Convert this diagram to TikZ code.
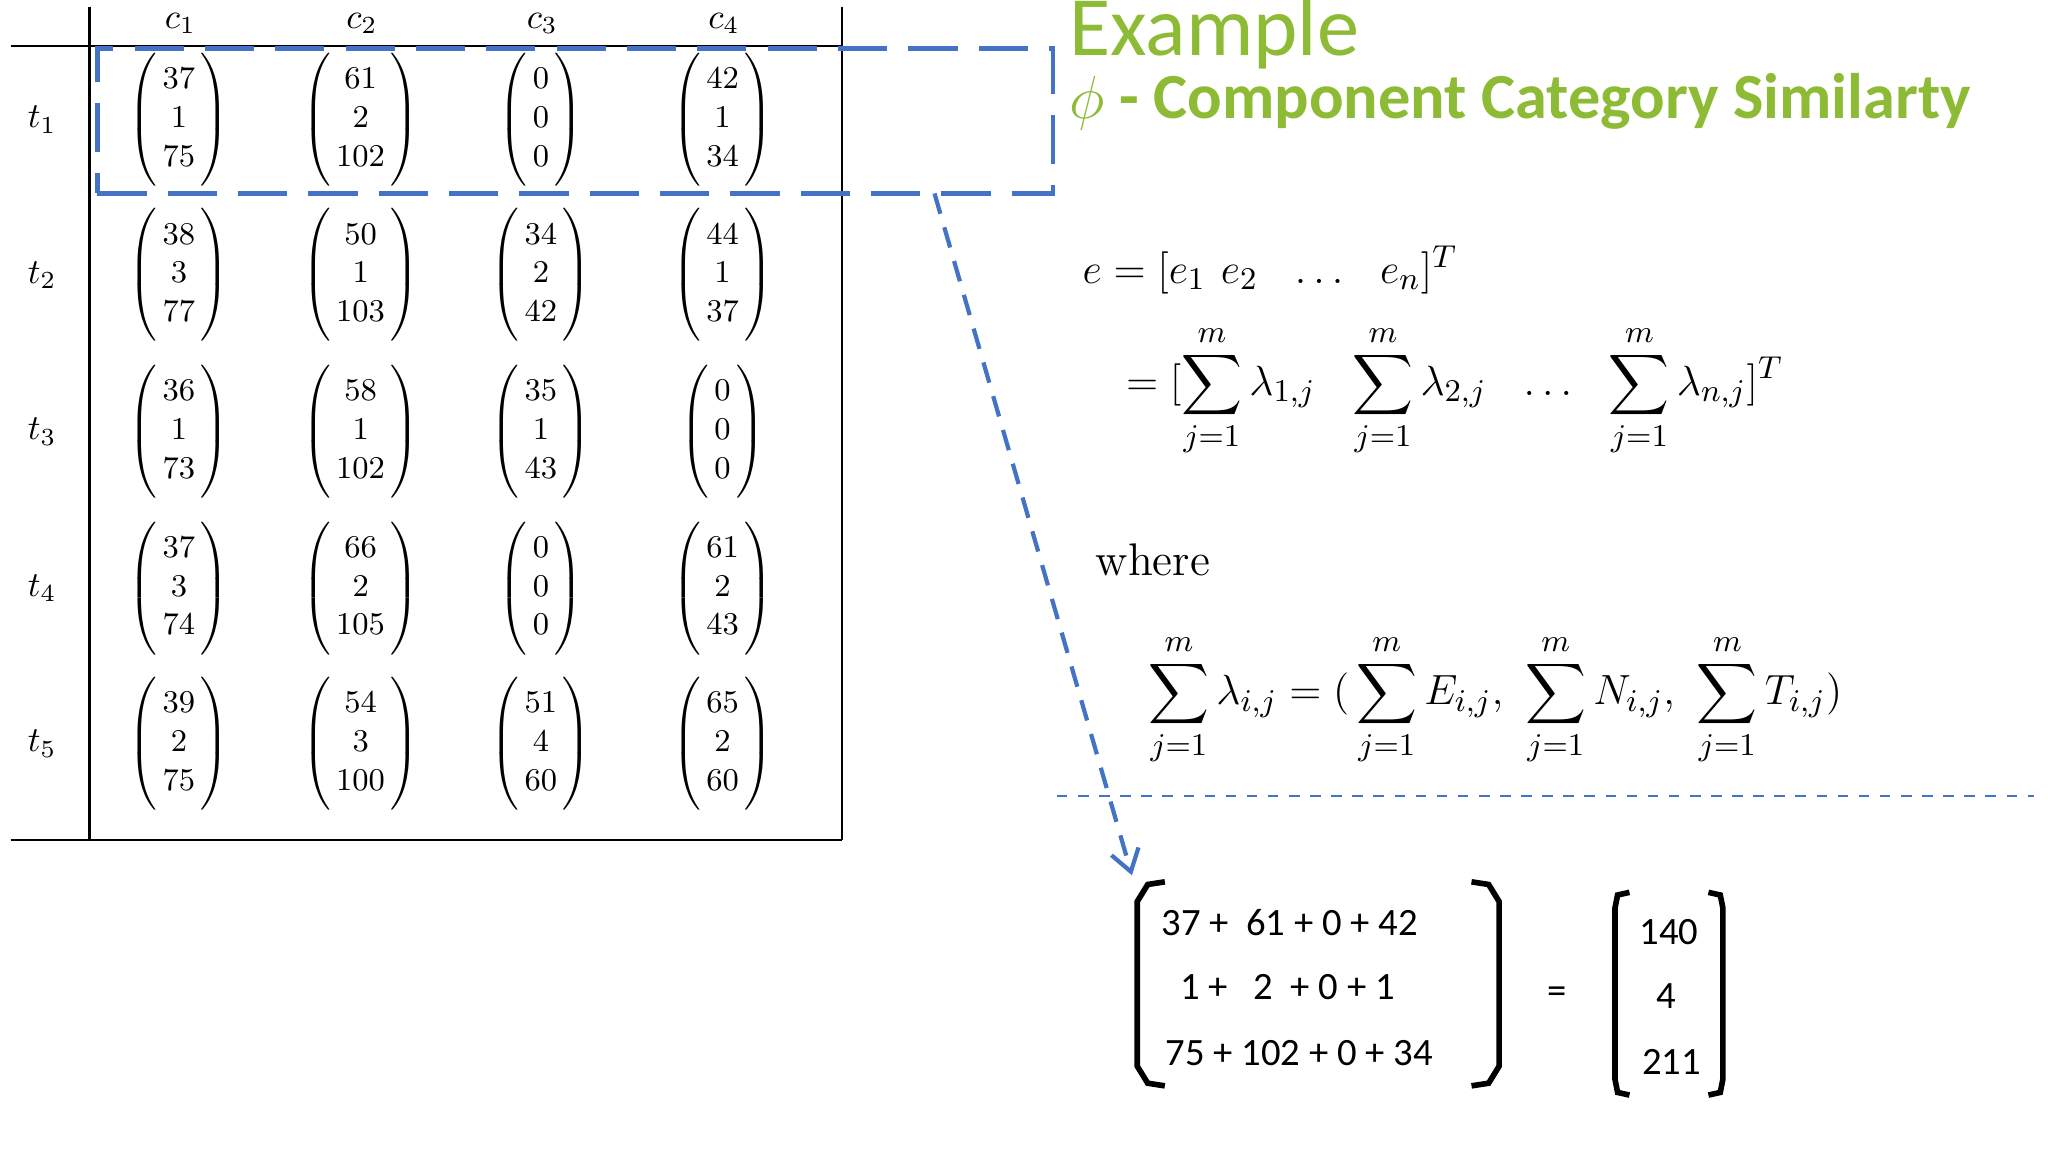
\documentclass[tikz,border=0pt]{standalone}
\usepackage{amsmath}
\usepackage{fontspec}
\newfontfamily\carl{Carlito}
\usetikzlibrary{arrows.meta}
\definecolor{tgreen}{HTML}{8DBB35}
\definecolor{dblue}{HTML}{4472C4}
\tikzset{
  cell/.style={font=\fontsize{9.5pt}{11pt}\selectfont, inner sep=0pt},
  hdr/.style={font=\fontsize{10pt}{12pt}\selectfont},
  eq/.style={anchor=west, font=\fontsize{13pt}{16pt}\selectfont, inner sep=0pt},
  sans/.style={font=\carl\fontsize{11pt}{13pt}\selectfont, inner sep=0pt},
  brk/.style={line width=1.6pt}
}
\begin{document}
\begin{tikzpicture}[x=0.01316cm,y=-0.01316cm]
\useasboundingbox (0,0) rectangle (1556,875);
% table lines
\draw[line width=0.6pt] (68,5) -- (68,638) (8,35) -- (640,35) (8,638) -- (640,638) (640,5) -- (640,638);
\foreach \x/\n in {137/1,275/2,412/3,550/4} \node[hdr] (c\n) at (\x,18) {$c_\n$};
\foreach \y/\n in {91/1,209/2,328/3,447/4,565/5} \node[hdr] (t\n) at (32,\y) {$t_\n$};
\renewcommand{\arraystretch}{1.0}
\newcommand{\mv}[3]{\node[cell] (#1) at #2 {$\left(\vcenter{\vbox{\vspace{3pt}\hbox{$\,\begin{matrix}#3\end{matrix}\,$}\vspace{3pt}}}\right)$};}
\mv{m11}{(136,91)}{37\\1\\75} \mv{m12}{(274,91)}{61\\2\\102} \mv{m13}{(411,91)}{0\\0\\0} \mv{m14}{(549,91)}{42\\1\\34}
\mv{m21}{(136,209)}{38\\3\\77} \mv{m22}{(274,209)}{50\\1\\103} \mv{m23}{(411,209)}{34\\2\\42} \mv{m24}{(549,209)}{44\\1\\37}
\mv{m31}{(136,328)}{36\\1\\73} \mv{m32}{(274,328)}{58\\1\\102} \mv{m33}{(411,328)}{35\\1\\43} \mv{m34}{(549,328)}{0\\0\\0}
\mv{m41}{(136,447)}{37\\3\\74} \mv{m42}{(274,447)}{66\\2\\105} \mv{m43}{(411,447)}{0\\0\\0} \mv{m44}{(549,447)}{61\\2\\43}
\mv{m51}{(136,565)}{39\\2\\75} \mv{m52}{(274,565)}{54\\3\\100} \mv{m53}{(411,565)}{51\\4\\60} \mv{m54}{(549,565)}{65\\2\\60}
% dashed highlight
\node[draw=dblue, dash pattern=on 14pt off 6pt, line width=1.4pt, minimum width=726*0.01316cm, minimum height=110*0.01316cm, inner sep=0pt] (hl) at (437,92) {};
\coordinate (as) at (710,147);
% titles
\node[anchor=west, text=tgreen, font=\carl\fontsize{24pt}{27pt}\selectfont, inner sep=0pt] (title) at (812,25) {Example};
\node[anchor=west, text=tgreen, font=\carl\bfseries\fontsize{18.3pt}{20pt}\selectfont, inner sep=0pt] (sub) at (812,77) {$\phi$ - Component Category Similarty};
% equations
\node[eq] (e1) at (822,205) {$e=[e_1\ e_2\ \ \ldots\ \ e_n]^T$};
\node[eq] (e2) at (855,297) {$=[\displaystyle\sum_{j=1}^{m}\lambda_{1,j}\ \ \sum_{j=1}^{m}\lambda_{2,j}\ \ \ldots\ \ \sum_{j=1}^{m}\lambda_{n,j}]^T$};
\node[eq] (wh) at (832,425) {where};
\node[eq] (e3) at (872,532) {$\displaystyle\sum_{j=1}^{m}\lambda_{i,j}=(\,\sum_{j=1}^{m}E_{i,j},\ \sum_{j=1}^{m}N_{i,j},\ \sum_{j=1}^{m}T_{i,j})$};
\draw[dblue, dashed, line width=0.5pt] (803,605) -- (1545,605);
% bottom matrix
\draw[brk] (885,670) -- (872,672) -- (864,685) -- (864,810) -- (872,823) -- (885,825);
\draw[brk] (1118,670) -- (1131,672) -- (1139,685) -- (1139,810) -- (1131,823) -- (1118,825);
\node[sans, anchor=west] (r1) at (882,701) {37 +\ \ 61 + 0 + 42};
\node[sans, anchor=west] (r2) at (896,750) {1 +\ \ \ 2\ \ + 0 + 1};
\node[sans, anchor=west] (r3) at (885,800) {75 + 102 + 0 + 34};
\coordinate (ae) at (860,665);
\node[sans] (eqs) at (1183,756) {=};
\draw[brk] (1238,678) -- (1229,680) -- (1227,690) -- (1227,820) -- (1229,830) -- (1238,832);
\draw[brk] (1298,678) -- (1307,680) -- (1309,690) -- (1309,820) -- (1307,830) -- (1298,832);
\node[sans] (v1) at (1268,708) {140};
\node[sans] (v2) at (1266,757) {4};
\node[sans] (v3) at (1270,807) {211};
\draw[dblue, line width=1.2pt, dash pattern=on 6pt off 4pt, -{Straight Barb[length=6pt,width=8pt]}] (as) -- (ae);
\end{tikzpicture}
\end{document}
